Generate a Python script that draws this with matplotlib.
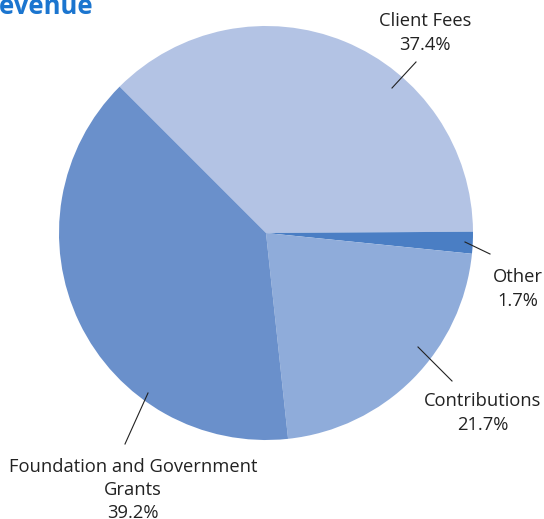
import matplotlib.pyplot as plt

# revenue shares (%)
categories = ["Client Fees", "Other", "Contributions", "Foundation and Government\nGrants"]
shares = [37.4, 1.7, 21.7, 39.2]
share_labels = ["37.4%", "1.7%", "21.7%", "39.2%"]
colors = ["#B3C3E4", "#4A7EC4", "#8FACDA", "#6A90CB"]

W, H = 544, 519
fig = plt.figure(figsize=(W / 100, H / 100), dpi=100)
ax = fig.add_axes([0, 0, 1, 1])

cx, cy, r = 266, 233, 207
wedges, _ = ax.pie(shares, colors=colors, startangle=-135, counterclock=True,
                   center=(cx, cy), radius=r, frame=True,
                   wedgeprops=dict(linewidth=0))
# y axis is flipped, so counterclockwise here runs clockwise on screen
ax.set_xlim(0, W)
ax.set_ylim(H, 0)
ax.set_aspect("equal")
ax.axis("off")

plt.rcParams['font.family'] = ['Open Sans', 'DejaVu Sans']

# leader line start, line end, text centre (pixels)
leaders = [((392, 88), (416, 62), (425, 33)),
           ((465, 242), (490, 254), (518, 289)),
           ((418, 347), (452, 381), (483, 413)),
           ((148, 393), (125, 444), (133, 490))]
for cat, lab, (p0, p1, t) in zip(categories, share_labels, leaders):
    ax.plot([p0[0], p1[0]], [p0[1], p1[1]], color="#222222", lw=0.8)
    ax.text(t[0], t[1], cat + "\n" + lab, ha="center", va="center",
            fontsize=13.2, color="#222222", linespacing=1.38)

# title is clipped by the top-left corner, as in the source image
ax.text(93, 14, "Revenue", ha="right", va="baseline", fontsize=18.5,
        fontweight="bold", color="#1B75CF")

fig.savefig("out.png", dpi=100)
